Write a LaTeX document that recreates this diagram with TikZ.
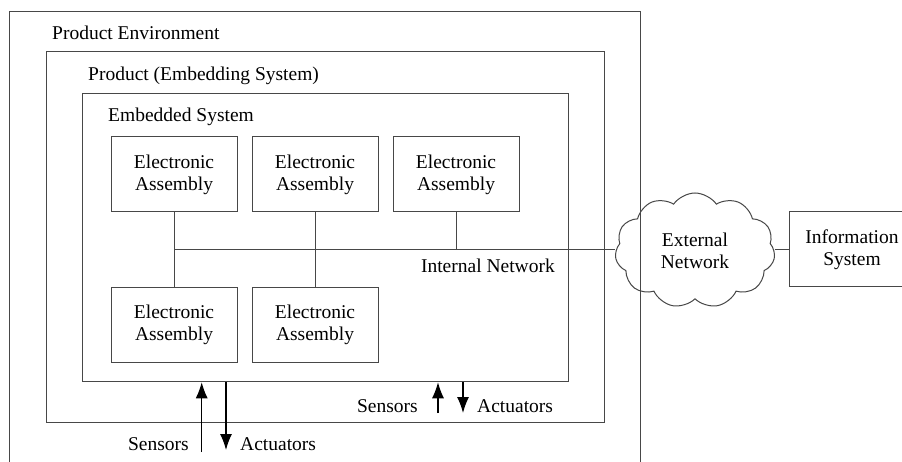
\documentclass[tikz,border=0pt]{standalone}
\usepackage{fontspec}
\setmainfont{Liberation Serif}
\usetikzlibrary{shapes.symbols,arrows.meta}
\tikzset{
  line/.style={draw=black!72, line width=1pt},
  txt/.style={font=\fontsize{19.5}{22}\selectfont, inner sep=0pt},
  ea/.style={line, txt, align=center, minimum width=126pt, minimum height=75pt},
  arr/.style={draw=black, line width=1.2pt, -{Latex[length=16pt,width=12pt]}},
}
\begin{document}
\begin{tikzpicture}[x=1pt,y=-1pt]
\clip (0,0) rectangle (902,462);
\fill[white] (0,0) rectangle (902,462);
% outer environment (open at the bottom)
\coordinate (envBL) at (9,470);
\coordinate (envTL) at (9,11.5);
\coordinate (envTR) at (640,11.5);
\coordinate (envBR) at (640,470);
\draw[line] (envBL) -- (envTL) -- (envTR) -- (envBR);
\node[txt, anchor=base west] (envlbl) at (52,40) {Product Environment};
% product box
\node[line, minimum width=558pt, minimum height=370pt, inner sep=0pt] (prod) at (325,237) {};
\node[txt, anchor=base west] (prodlbl) at (88,80.5) {Product (Embedding System)};
% embedded system box
\node[line, minimum width=486pt, minimum height=288.5pt, inner sep=0pt] (emb) at (325,237.5) {};
\node[txt, anchor=base west] (emblbl) at (108,121.5) {Embedded System};
% electronic assemblies
\node[ea] (ea1) at (174,174.5) {Electronic\\Assembly};
\node[ea] (ea2) at (315,174.5) {Electronic\\Assembly};
\node[ea] (ea3) at (456,174.5) {Electronic\\Assembly};
\node[ea] (ea4) at (174,325) {Electronic\\Assembly};
\node[ea] (ea5) at (315,325) {Electronic\\Assembly};
% external
\node[cloud, cloud puffs=11, cloud puff arc=110, line, txt, align=center,
      minimum width=160pt, minimum height=115pt] (ext) at (695,250.5) {External\\Network};
\node[ea] (info) at (852,249.5) {Information\\System};
% network
\coordinate (bus) at (174,250);
\draw[line] (ea1.south) -- (ea4.north);
\draw[line] (ea2.south) -- (ea5.north);
\draw[line] (ea3.south) -- (ea3.south |- bus);
\draw[line] (bus) -- (bus -| ext.west);
\draw[line] (ext.east |- info.west) -- (info.west);
\node[txt, anchor=base east] (netlbl) at (555,273) {Internal Network};
% sensors / actuators, outer
\coordinate (s1) at (201.7,452);
\coordinate (a1) at (226,450);
\draw[arr] (s1) -- (s1 |- emb.south);
\draw[arr] (a1 |- emb.south) -- (a1);
\node[txt, anchor=base east] (s1lbl) at (189,450) {Sensors};
\node[txt, anchor=base west] (a1lbl) at (240,450) {Actuators};
% sensors / actuators, inner
\coordinate (s2) at (438,413);
\coordinate (a2) at (463,413);
\draw[arr] (s2) -- (s2 |- emb.south);
\draw[arr] (a2 |- emb.south) -- (a2);
\node[txt, anchor=base east] (s2lbl) at (418,412) {Sensors};
\node[txt, anchor=base west] (a2lbl) at (477,412) {Actuators};
\end{tikzpicture}
\end{document}
